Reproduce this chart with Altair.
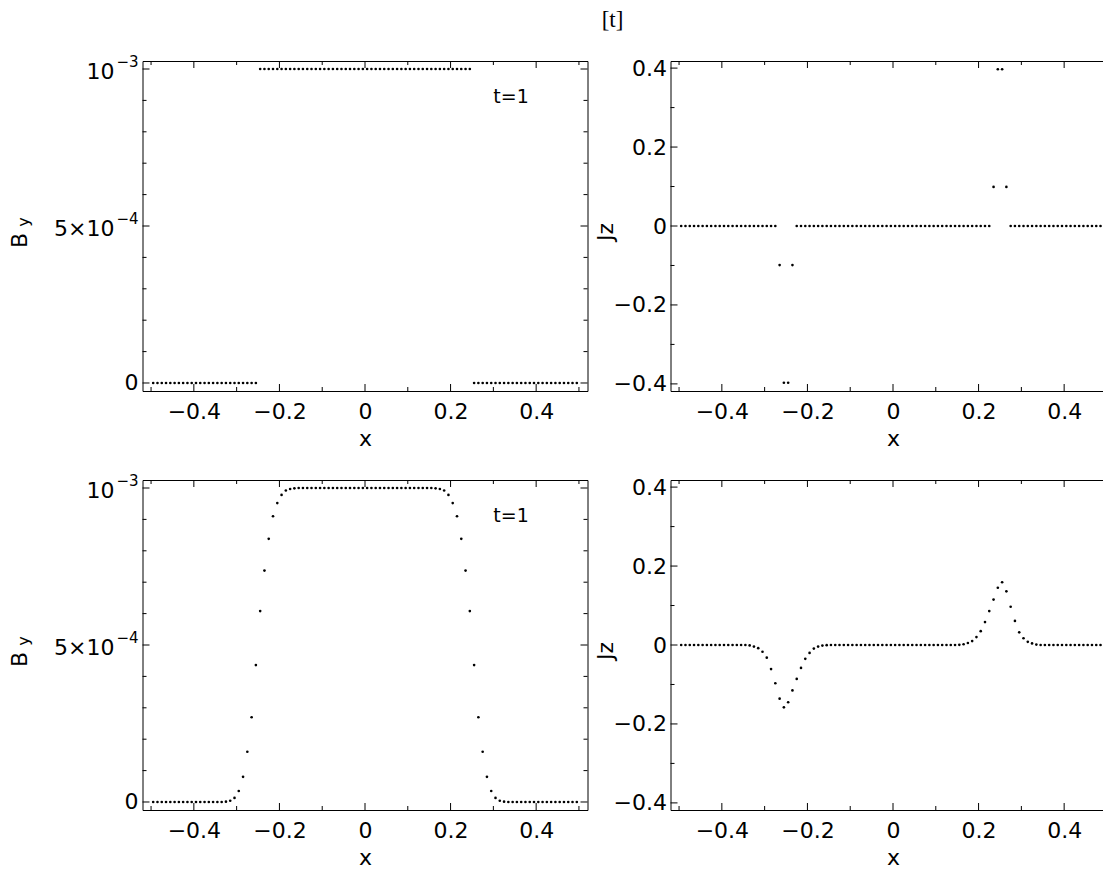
import altair as alt
import pandas as pd

# ---------------- data ----------------
x_grid = [
    -0.495, -0.485, -0.475, -0.465, -0.455, -0.445, -0.435, -0.425, -0.415, -0.405,
    -0.395, -0.385, -0.375, -0.365, -0.355, -0.345, -0.335, -0.325, -0.315, -0.305,
    -0.295, -0.285, -0.275, -0.265, -0.255, -0.245, -0.235, -0.225, -0.215, -0.205,
    -0.195, -0.185, -0.175, -0.165, -0.155, -0.145, -0.135, -0.125, -0.115, -0.105,
    -0.095, -0.085, -0.075, -0.065, -0.055, -0.045, -0.035, -0.025, -0.015, -0.005,
    0.005, 0.015, 0.025, 0.035, 0.045, 0.055, 0.065, 0.075, 0.085, 0.095,
    0.105, 0.115, 0.125, 0.135, 0.145, 0.155, 0.165, 0.175, 0.185, 0.195,
    0.205, 0.215, 0.225, 0.235, 0.245, 0.255, 0.265, 0.275, 0.285, 0.295,
    0.305, 0.315, 0.325, 0.335, 0.345, 0.355, 0.365, 0.375, 0.385, 0.395,
    0.405, 0.415, 0.425, 0.435, 0.445, 0.455, 0.465, 0.475, 0.485, 0.495,
]

# B_y in units of 1e-3
by_step = [
    0, 0, 0, 0, 0, 0, 0, 0, 0, 0,
    0, 0, 0, 0, 0, 0, 0, 0, 0, 0,
    0, 0, 0, 0, 0, 1, 1, 1, 1, 1,
    1, 1, 1, 1, 1, 1, 1, 1, 1, 1,
    1, 1, 1, 1, 1, 1, 1, 1, 1, 1,
    1, 1, 1, 1, 1, 1, 1, 1, 1, 1,
    1, 1, 1, 1, 1, 1, 1, 1, 1, 1,
    1, 1, 1, 1, 1, 0, 0, 0, 0, 0,
    0, 0, 0, 0, 0, 0, 0, 0, 0, 0,
    0, 0, 0, 0, 0, 0, 0, 0, 0, 0,
]

jz_step = [
    0, 0, 0, 0, 0, 0, 0, 0, 0, 0,
    0, 0, 0, 0, 0, 0, 0, 0, 0, 0,
    0, 0, 0, -0.099, -0.397, -0.397, -0.099, 0, 0, 0,
    0, 0, 0, 0, 0, 0, 0, 0, 0, 0,
    0, 0, 0, 0, 0, 0, 0, 0, 0, 0,
    0, 0, 0, 0, 0, 0, 0, 0, 0, 0,
    0, 0, 0, 0, 0, 0, 0, 0, 0, 0,
    0, 0, 0, 0.099, 0.397, 0.397, 0.099, 0, 0, 0,
    0, 0, 0, 0, 0, 0, 0, 0, 0, 0,
    0, 0, 0, 0, 0, 0, 0, 0, 0, 0,
]

by_smooth = [
    0, 0, 0, 0, 0, 0, 0, 0, 0, 0,
    0, 0, 0, 0, 0, 0, 0, 0.001, 0.004, 0.013,
    0.035, 0.08, 0.16, 0.27, 0.436, 0.608, 0.737, 0.838, 0.910, 0.952,
    0.978, 0.992, 0.997, 0.999, 1, 1, 1, 1, 1, 1,
    1, 1, 1, 1, 1, 1, 1, 1, 1, 1,
    1, 1, 1, 1, 1, 1, 1, 1, 1, 1,
    1, 1, 1, 1, 1, 1, 0.999, 0.997, 0.992, 0.978,
    0.952, 0.910, 0.838, 0.737, 0.608, 0.436, 0.27, 0.16, 0.08, 0.035,
    0.013, 0.004, 0.001, 0, 0, 0, 0, 0, 0, 0,
    0, 0, 0, 0, 0, 0, 0, 0, 0, 0,
]

jz_smooth = [
    0, 0, 0, 0, 0, 0, 0, 0, 0, 0,
    0, 0, 0, 0, 0, 0, -0.001, -0.004, -0.008, -0.017,
    -0.032, -0.061, -0.097, -0.136, -0.158, -0.145, -0.115, -0.086, -0.058, -0.035,
    -0.020, -0.009, -0.004, -0.0015, -0.0005, 0, 0, 0, 0, 0,
    0, 0, 0, 0, 0, 0, 0, 0, 0, 0,
    0, 0, 0, 0, 0, 0, 0, 0, 0, 0,
    0, 0, 0, 0, 0, 0.0005, 0.002, 0.005, 0.010, 0.020,
    0.035, 0.058, 0.086, 0.115, 0.145, 0.159, 0.136, 0.097, 0.061, 0.032,
    0.017, 0.008, 0.004, 0.001, 0, 0, 0, 0, 0, 0,
    0, 0, 0, 0, 0, 0, 0, 0, 0, 0,
]

x_major = [-0.4, -0.2, 0.0, 0.2, 0.4]
x_minor = [-0.5, -0.3, -0.1, 0.1, 0.3, 0.5]
by_major = [0.0, 0.5, 1.0]
by_minor = [0.1, 0.2, 0.3, 0.4, 0.6, 0.7, 0.8, 0.9]
jz_major = [-0.4, -0.2, 0.0, 0.2, 0.4]
jz_minor = [-0.3, -0.1, 0.1, 0.3]

# y tick labels of the B_y panels: mantissa part and exponent part
by_label_pos = [0.0, 0.5, 1.0]
by_label_base = ["0", "5\u00d710", "10"]
by_label_exp = ["", "\u22124", "\u22123"]

main_title = "[t]"
time_label = "t=1"

# ---------------- style ----------------
W, H = 445, 330
FONT = "DejaVu Sans"
LFS = 22
EFS = 15
MAJ, MIN = 7, 4
X_DOMAIN = [-0.52, 0.52]
BY_DOMAIN = [-0.0255, 1.0255]
JZ_DOMAIN = [-0.418, 0.418]


def tick_layers(xs, ys, ymaj, ymin):
    layers = []
    for vals, ln in ((x_major, MAJ), (x_minor, MIN)):
        d = pd.DataFrame({"x": vals})
        layers.append(alt.Chart(d).mark_rule(color="black", strokeWidth=1).encode(
            x=alt.X("x:Q", scale=xs), y=alt.value(H), y2=alt.value(H - ln)))
        layers.append(alt.Chart(d).mark_rule(color="black", strokeWidth=1).encode(
            x=alt.X("x:Q", scale=xs), y=alt.value(0), y2=alt.value(ln)))
    for vals, ln in ((ymaj, MAJ), (ymin, MIN)):
        d = pd.DataFrame({"y": vals})
        layers.append(alt.Chart(d).mark_rule(color="black", strokeWidth=1).encode(
            y=alt.Y("y:Q", scale=ys), x=alt.value(0), x2=alt.value(ln)))
        layers.append(alt.Chart(d).mark_rule(color="black", strokeWidth=1).encode(
            y=alt.Y("y:Q", scale=ys), x=alt.value(W), x2=alt.value(W - ln)))
    return layers


def panel(yvals, kind, show_t=False, show_title=False):
    xs = alt.Scale(domain=X_DOMAIN, nice=False, zero=False)
    if kind == "by":
        ys = alt.Scale(domain=BY_DOMAIN, nice=False, zero=False)
        ymaj, ymin = by_major, by_minor
        yaxis = alt.Axis(values=ymaj, labels=False, ticks=False, tickSize=0,
                         domain=False, grid=False, title=None)
    else:
        ys = alt.Scale(domain=JZ_DOMAIN, nice=False, zero=False)
        ymaj, ymin = jz_major, jz_minor
        yaxis = alt.Axis(values=ymaj, format=".1~f", ticks=False, tickSize=0,
                         domain=False, grid=False, labelFont=FONT, labelFontSize=LFS,
                         labelPadding=4, labelColor="black", title=None)
    xaxis = alt.Axis(values=x_major, format=".1~f", ticks=False, tickSize=0,
                     domain=False, grid=False, labelFont=FONT, labelFontSize=LFS,
                     labelPadding=10, labelColor="black", title="x", titleFont=FONT,
                     titleFontSize=LFS, titleFontWeight="normal", titleColor="black",
                     titlePadding=6)
    df = pd.DataFrame({"x": x_grid, "y": yvals})
    pts = alt.Chart(df).mark_circle(size=7, color="black", opacity=1).encode(
        x=alt.X("x:Q", scale=xs, axis=xaxis),
        y=alt.Y("y:Q", scale=ys, axis=yaxis),
    )
    layers = [pts] + tick_layers(xs, ys, ymaj, ymin)

    if kind == "by":
        ldf = pd.DataFrame({"y": by_label_pos, "base": by_label_base, "exp": by_label_exp,
                            "hasexp": [0, 1, 1]})
        base_zero = ldf[ldf["hasexp"] == 0]
        base_exp = ldf[ldf["hasexp"] == 1]
        layers.append(alt.Chart(base_zero).mark_text(
            font=FONT, fontSize=LFS, align="right", baseline="middle", color="black").encode(
            y=alt.Y("y:Q", scale=ys), x=alt.value(-4), text="base:N"))
        layers.append(alt.Chart(base_exp).mark_text(
            font=FONT, fontSize=LFS, align="right", baseline="middle", dy=3,
            color="black").encode(
            y=alt.Y("y:Q", scale=ys), x=alt.value(-28), text="base:N"))
        layers.append(alt.Chart(base_exp).mark_text(
            font=FONT, fontSize=EFS, align="right", baseline="middle", dy=-7,
            color="black").encode(
            y=alt.Y("y:Q", scale=ys), x=alt.value(-4), text="exp:N"))
        layers.append(alt.Chart(pd.DataFrame({"t": ["B"]})).mark_text(
            angle=270, font=FONT, fontSize=LFS, align="center", baseline="middle",
            color="black").encode(text="t:N", x=alt.value(-122.5), y=alt.value(179.5)))
        layers.append(alt.Chart(pd.DataFrame({"t": ["y"]})).mark_text(
            angle=270, font=FONT, fontSize=16, align="center", baseline="middle",
            color="black").encode(text="t:N", x=alt.value(-119), y=alt.value(161)))
    else:
        layers.append(alt.Chart(pd.DataFrame({"t": ["Jz"]})).mark_text(
            angle=270, font=FONT, fontSize=LFS, align="center", baseline="middle",
            color="black").encode(text="t:N", x=alt.value(-64.5), y=alt.value(171)))
    if show_t:
        tdf = pd.DataFrame({"x": [0.30], "y": [0.91], "t": [time_label]})
        layers.append(alt.Chart(tdf).mark_text(
            font=FONT, fontSize=19, align="left", baseline="middle", color="black").encode(
            x=alt.X("x:Q", scale=xs), y=alt.Y("y:Q", scale=ys), text="t:N"))
    if show_title:
        layers.append(alt.Chart(pd.DataFrame({"t": [main_title]})).mark_text(
            font="Liberation Serif", fontSize=23, align="center", baseline="top",
            color="black").encode(text="t:N", x=alt.value(470), y=alt.value(-52)))
    return alt.layer(*layers).properties(width=W, height=H)


a = panel(by_step, "by", show_t=True, show_title=True)
b = panel(jz_step, "jz")
c = panel(by_smooth, "by", show_t=True)
d = panel(jz_smooth, "jz")

chart = alt.concat(a, b, c, d, columns=2, spacing={"row": 89, "column": 83},
                   bounds="flush").properties(
    padding={"left": 0.5, "top": 0, "right": -14, "bottom": 0},
    background="white",
).configure_view(stroke="black", strokeWidth=1)

chart.save("out.html", embed_options={"renderer": "svg", "actions": False})
